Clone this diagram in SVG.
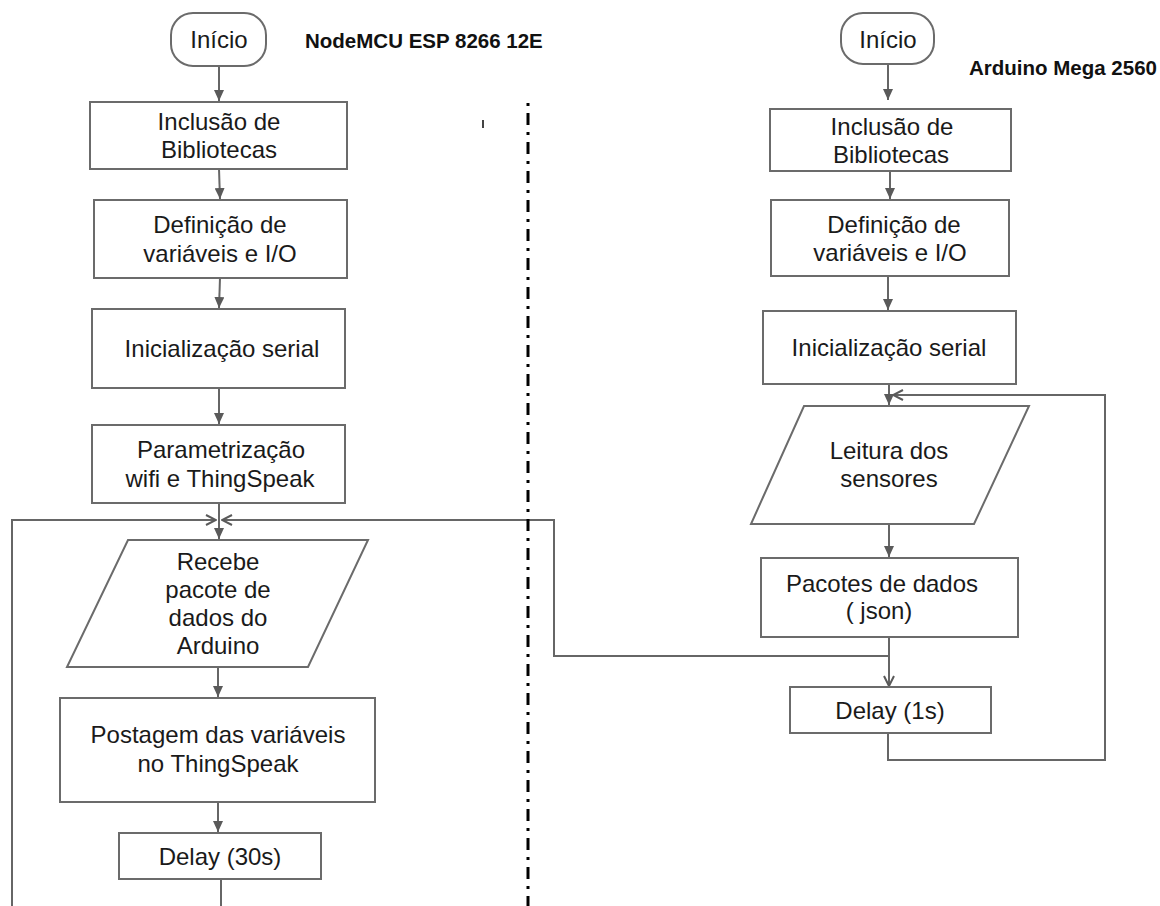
<svg xmlns="http://www.w3.org/2000/svg" width="1160" height="906" viewBox="0 0 1160 906">
<style>
.box{fill:#fff;stroke:#6b6b6b;stroke-width:2}
.t{font-family:"Liberation Sans",Arial,sans-serif;font-size:24px;fill:#1a1a1a;text-anchor:middle}
.title{font-family:"Liberation Sans",Arial,sans-serif;font-size:20.5px;font-weight:bold;fill:#111}
.c{fill:none;stroke:#666;stroke-width:2}
</style>
<defs>
<marker id="arr" markerUnits="userSpaceOnUse" markerWidth="12" markerHeight="10" refX="11" refY="5" orient="auto">
<path d="M0,0 L11,5 L0,10 z" fill="#5a5a5a"/>
</marker>
<marker id="open" markerUnits="userSpaceOnUse" markerWidth="12" markerHeight="12" refX="11" refY="6" orient="auto">
<path d="M1,1 L11,6 L1,11" fill="none" stroke="#5a5a5a" stroke-width="2"/>
</marker>
</defs>
<rect width="1160" height="906" fill="#fff"/>

<g id="connectors">
<path class="c" d="M219,66 L219,101" marker-end="url(#arr)"/>
<path class="c" d="M219,169 L220,199" marker-end="url(#arr)"/>
<path class="c" d="M220,278 L219,308" marker-end="url(#arr)"/>
<path class="c" d="M219,388 L219,424" marker-end="url(#arr)"/>
<path class="c" d="M219,503 L219,539" marker-end="url(#arr)"/>
<path class="c" d="M12,906 L12,520 L216,520" marker-end="url(#open)"/>
<path class="c" d="M889,656 L554,656 L554,520 L222,520" marker-end="url(#open)"/>
<path class="c" d="M218,667 L218,697" marker-end="url(#arr)"/>
<path class="c" d="M218,802 L218,832" marker-end="url(#arr)"/>
<path class="c" d="M221,879 L221,906"/>
<path class="c" d="M888,64 L888,100" marker-end="url(#arr)"/>
<path class="c" d="M890,171 L890,199" marker-end="url(#arr)"/>
<path class="c" d="M888,276 L888,310" marker-end="url(#arr)"/>
<path class="c" d="M889,384 L889,405" marker-end="url(#arr)"/>
<path class="c" d="M888,733 L888,760 L1105,760 L1105,395 L893,395" marker-end="url(#open)"/>
<path class="c" d="M889,524 L889,557" marker-end="url(#arr)"/>
<path class="c" d="M889,637 L889,686" marker-end="url(#open)"/>
</g>

<line x1="528" y1="103" x2="528" y2="906" stroke="#000" stroke-width="3" stroke-dasharray="3 7 12 7"/>
<line x1="483" y1="120" x2="483" y2="128" stroke="#444" stroke-width="2"/>

<text class="title" x="305" y="48">NodeMCU ESP 8266 12E</text>
<text class="title" x="969" y="75">Arduino Mega 2560</text>

<g id="start1"><rect class="box" x="171" y="13" width="95" height="53" rx="22"/><text class="t" x="219" y="48">Início</text></g>
<g id="n1"><rect class="box" x="90" y="102" width="257" height="67"/><text class="t" x="219" y="130">Inclusão de</text><text class="t" x="219" y="158">Bibliotecas</text></g>
<g id="n2"><rect class="box" x="94" y="200" width="253" height="78"/><text class="t" x="220" y="233">Definição de</text><text class="t" x="220" y="262">variáveis e I/O</text></g>
<g id="n3"><rect class="box" x="92" y="309" width="253" height="79"/><text class="t" x="222" y="357">Inicialização serial</text></g>
<g id="n4"><rect class="box" x="92" y="425" width="253" height="78"/><text class="t" x="221" y="458">Parametrização</text><text class="t" x="220" y="487">wifi e ThingSpeak</text></g>
<g id="n5"><polygon class="box" points="128,540 368,540 308,667 67,667"/><text class="t" x="218" y="570">Recebe</text><text class="t" x="218" y="598">pacote de</text><text class="t" x="218" y="626">dados do</text><text class="t" x="218" y="654">Arduino</text></g>
<g id="n6"><rect class="box" x="60" y="698" width="315" height="104"/><text class="t" x="218" y="743">Postagem das variáveis</text><text class="t" x="218" y="772">no ThingSpeak</text></g>
<g id="n7"><rect class="box" x="119" y="833" width="202" height="46"/><text class="t" x="220" y="865">Delay (30s)</text></g>

<g id="start2"><rect class="box" x="841" y="13" width="93" height="51" rx="22"/><text class="t" x="888" y="48">Início</text></g>
<g id="m1"><rect class="box" x="770" y="109" width="241" height="62"/><text class="t" x="892" y="135">Inclusão de</text><text class="t" x="891" y="163">Bibliotecas</text></g>
<g id="m2"><rect class="box" x="771" y="200" width="238" height="76"/><text class="t" x="894" y="233">Definição de</text><text class="t" x="890" y="261">variáveis e I/O</text></g>
<g id="m3"><rect class="box" x="763" y="311" width="253" height="73"/><text class="t" x="889" y="356">Inicialização serial</text></g>
<g id="m4"><polygon class="box" points="804,406 1029,406 974,524 751,524"/><text class="t" x="889" y="459">Leitura dos</text><text class="t" x="889" y="487">sensores</text></g>
<g id="m5"><rect class="box" x="761" y="558" width="257" height="79"/><text class="t" x="882" y="592">Pacotes de dados</text><text class="t" x="879" y="619">( json)</text></g>
<g id="m6"><rect class="box" x="790" y="687" width="201" height="46"/><text class="t" x="890" y="719">Delay (1s)</text></g>
</svg>
